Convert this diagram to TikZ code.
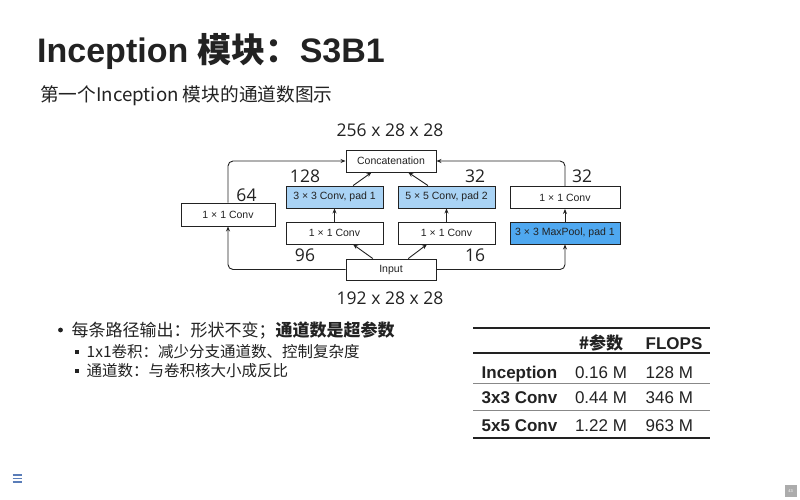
\documentclass[tikz,border=0pt]{standalone}
\usepackage{fontspec}
\setmainfont{Liberation Sans}
\newfontfamily\cjk{Noto Sans CJK SC}
\newfontfamily\numfont{Open Sans}
\usetikzlibrary{arrows.meta,calc}

\definecolor{ink}{HTML}{222222}
\definecolor{lightblue}{HTML}{A9D3F5}
\definecolor{poolblue}{HTML}{4FA8F0}
\definecolor{rulegray}{HTML}{888888}
\definecolor{iconblue}{HTML}{5A7DB8}

\tikzset{
  blk/.style={draw=ink, line width=0.9pt, fill=white, inner sep=0pt,
    minimum height=22pt, text=ink, font=\fontsize{10.5}{12}\selectfont},
  dimlabel/.style={text=ink, font=\numfont\fontsize{17.5}{20}\selectfont, inner sep=0pt},
  arr/.style={draw=ink, line width=0.9pt, rounded corners=5pt,
    -{Stealth[length=5pt,width=4pt]}},
  cell/.style={anchor=base, inner sep=0pt, text=ink, font=\fontsize{17}{20}\selectfont},
  hcell/.style={cell, font=\bfseries\fontsize{17}{20}\selectfont},
  thickrule/.style={draw=ink, line width=2.4pt},
  thinrule/.style={draw=rulegray, line width=0.9pt},
}

\begin{document}
\begin{tikzpicture}[x=1pt,y=-1pt]
\useasboundingbox[fill=white] (0,0) rectangle (800,500);

% heading
\node[anchor=base west, inner sep=0pt, text=ink] (title) at (37,62.5)
  {\bfseries\fontsize{34}{38}\selectfont Inception {\cjk 模块：}S3B1};
\node[anchor=base west, inner sep=0pt, text=ink] (subtitle) at (40,101.5)
  {\cjk\fontsize{18.7}{22}\selectfont 第一个Inception 模块的通道数图示};

% Inception block diagram
\node[blk, minimum width=90pt] (concat) at (391,161) {Concatenation};
\node[blk, minimum width=97pt, fill=lightblue] (b3) at (334.5,197) {3 × 3 Conv, pad 1};
\node[blk, minimum width=97pt, fill=lightblue] (b5) at (446.5,197) {5 × 5 Conv, pad 2};
\node[blk, minimum width=110pt] (c4) at (565,197.5) {1 × 1 Conv};
\node[blk, minimum width=94pt, minimum height=23pt] (c1) at (228,214.5) {1 × 1 Conv};
\node[blk, minimum width=97pt] (c2) at (334.5,233) {1 × 1 Conv};
\node[blk, minimum width=97pt] (c3) at (446.5,233) {1 × 1 Conv};
\node[blk, minimum width=110pt, fill=poolblue] (pool) at (565,233) {3 × 3 MaxPool, pad 1};
\node[blk, minimum width=90pt, minimum height=21pt] (input) at (391,269.5) {Input};

% channel counts
\node[dimlabel] (outdim) at (390,130) {256 x 28 x 28};
\node[dimlabel] (indim) at (390,298) {192 x 28 x 28};
\node[dimlabel] (n64) at (246.5,195) {64};
\node[dimlabel] (n128) at (305,176) {128};
\node[dimlabel] (n32a) at (475,176) {32};
\node[dimlabel] (n32b) at (582,176) {32};
\node[dimlabel] (n96) at (305,255.5) {96};
\node[dimlabel] (n16) at (475,255.5) {16};

% paths
\draw[arr] (input.west) -| (c1.south);
\draw[arr] (c1.north) |- (concat.west);
\draw[arr] (input.east) -| (pool.south);
\draw[arr] (pool.north) -- (c4.south);
\draw[arr] (c4.north) |- (concat.east);
\draw[arr] ($(input.north west)!0.3!(input.north east)$) -- ($(c2.south west)!0.69!(c2.south east)$);
\draw[arr] ($(input.north west)!0.69!(input.north east)$) -- ($(c3.south west)!0.3!(c3.south east)$);
\draw[arr] (c2.north) -- (b3.south);
\draw[arr] (c3.north) -- (b5.south);
\draw[arr] ($(b3.north west)!0.69!(b3.north east)$) -- ($(concat.south west)!0.285!(concat.south east)$);
\draw[arr] ($(b5.north west)!0.31!(b5.north east)$) -- ($(concat.south west)!0.69!(concat.south east)$);

% bullet list
\fill[ink] (60.5,330) circle (2.4pt);
\node[anchor=base west, inner sep=0pt, text=ink] (item1) at (71.5,336.3)
  {\cjk\fontsize{17}{20}\selectfont 每条路径输出：形状不变；{\bfseries 通道数是超参数}};
\fill[ink] (75.3,349.8) rectangle +(4,4);
\node[anchor=base west, inner sep=0pt, text=ink] (item2) at (86.5,357.2)
  {\cjk\fontsize{15.5}{18}\selectfont 1x1卷积：减少分支通道数、控制复杂度};
\fill[ink] (75.3,369.2) rectangle +(4,4);
\node[anchor=base west, inner sep=0pt, text=ink] (item3) at (86.5,376.7)
  {\cjk\fontsize{15.5}{18}\selectfont 通道数：与卷积核大小成反比};

% cost table
\draw[thickrule] (473,328) -- (710,328);
\draw[thickrule] (473,353) -- (710,353);
\draw[thinrule] (473,383.5) -- (710,383.5);
\draw[thinrule] (473,410.5) -- (710,410.5);
\draw[thickrule] (473,438) -- (710,438);

\node[hcell] (hparams) at (601,349) {\cjk\bfseries \#参数};
\node[hcell, anchor=base west] (hflops) at (645.5,349) {FLOPS};

\node[hcell, anchor=base west] (r1) at (481.5,378) {Inception};
\node[cell] (r1p) at (601,378) {0.16 M};
\node[cell, anchor=base west] (r1f) at (645.5,378) {128 M};

\node[hcell, anchor=base west] (r2) at (481.5,403.5) {3x3 Conv};
\node[cell] (r2p) at (601,403.5) {0.44 M};
\node[cell, anchor=base west] (r2f) at (645.5,403.5) {346 M};

\node[hcell, anchor=base west] (r3) at (481.5,431) {5x5 Conv};
\node[cell] (r3p) at (601,431) {1.22 M};
\node[cell, anchor=base west] (r3f) at (645.5,431) {963 M};

% slide furniture
\draw[iconblue, line width=1.3pt] (12.5,475) -- (22,475) (12.5,478.5) -- (22,478.5) (12.5,482) -- (22,482);
\node[fill=gray!65, minimum size=12pt, inner sep=0pt, text=white,
  font=\fontsize{4}{5}\selectfont] (pagenum) at (790.5,491) {43};
\end{tikzpicture}
\end{document}
